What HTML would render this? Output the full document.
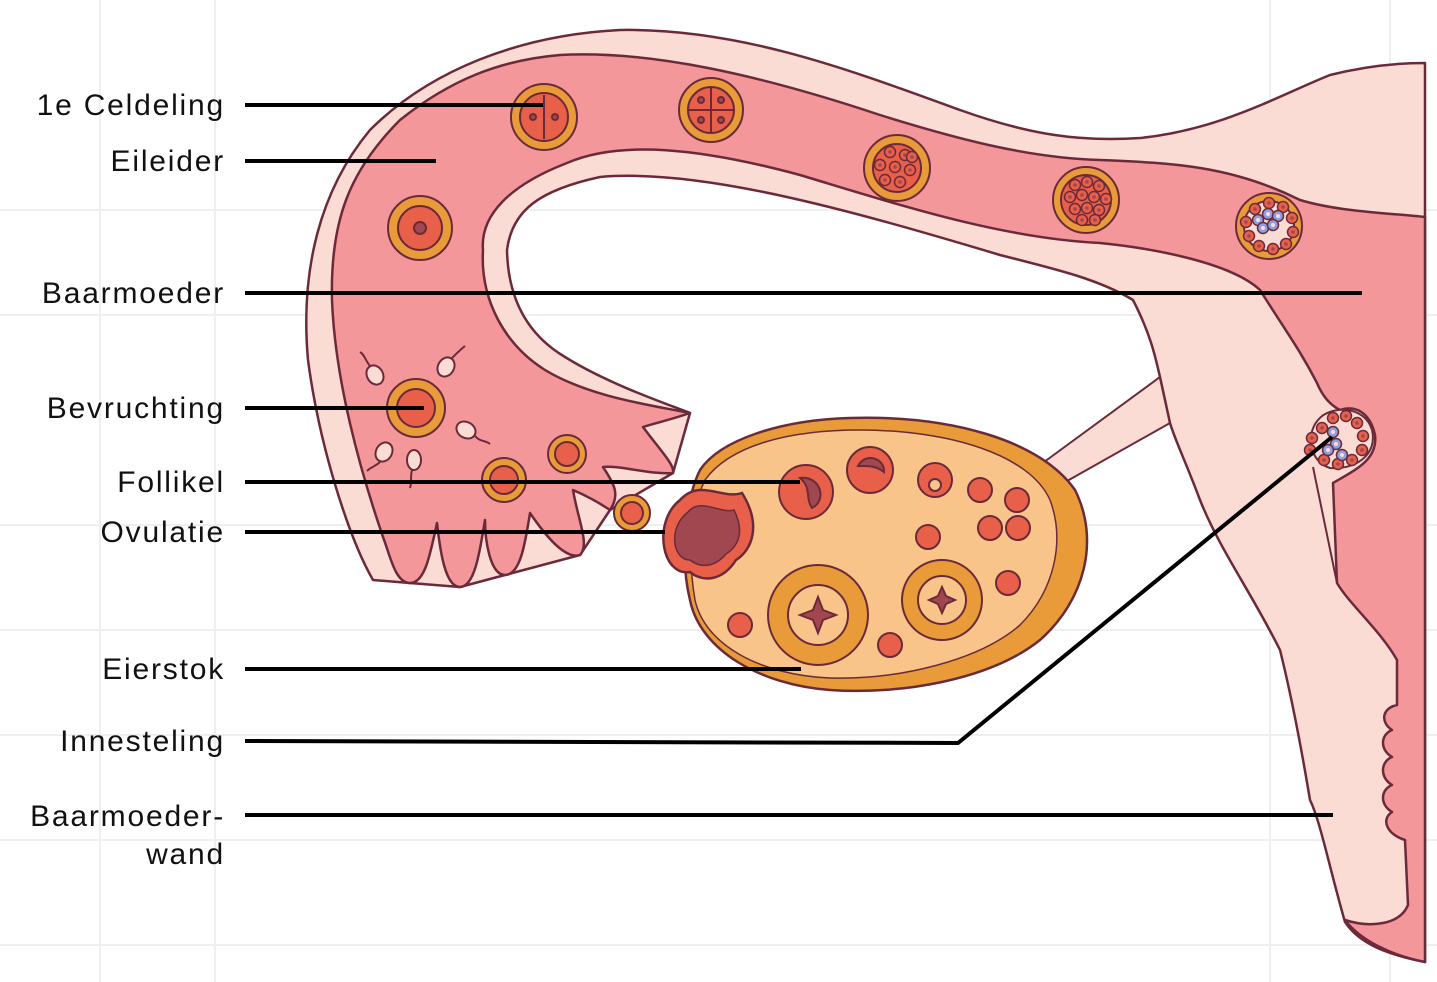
<!DOCTYPE html>
<html><head><meta charset="utf-8"><style>
html,body{margin:0;padding:0;background:#fff}
svg{display:block}
text{font-family:"Liberation Sans",sans-serif;font-size:30px;fill:#111;letter-spacing:1.8px}
</style></head><body>
<svg width="1437" height="982" viewBox="0 0 1437 982" xmlns="http://www.w3.org/2000/svg">
<defs>
<g id="c"><circle r="5.5" fill="#e8604a" stroke="#6b2a3a" stroke-width="1.5"/><circle r="1.8" fill="#a0474f"/></g>
<g id="b"><circle r="5.5" fill="#8fa0e0" stroke="#6b2a3a" stroke-width="1.5"/><circle r="2" fill="#fbdcd5"/></g>
</defs>
<g stroke="#efefef" stroke-width="2">
<line x1="100" y1="0" x2="100" y2="982"/><line x1="215" y1="0" x2="215" y2="982"/><line x1="1270" y1="0" x2="1270" y2="982"/><line x1="1390" y1="0" x2="1390" y2="982"/>
<line x1="0" y1="210" x2="1437" y2="210"/><line x1="0" y1="315" x2="1437" y2="315"/><line x1="0" y1="525" x2="1437" y2="525"/><line x1="0" y1="630" x2="1437" y2="630"/><line x1="0" y1="735" x2="1437" y2="735"/><line x1="0" y1="840" x2="1437" y2="840"/><line x1="0" y1="945" x2="1437" y2="945"/>
</g>
<path d="M1040,465 L1160,377 L1170,423 L1060,485 Z" fill="#fbdcd5" stroke="#6b2a3a" stroke-width="2"/>
<path d="M373,580 C350,540 320,450 308,360 C300,270 320,190 370,130 C430,70 520,35 620,30 C740,28 850,70 960,110 C1030,135 1080,142 1140,138 C1220,130 1280,95 1330,75 C1370,65 1400,63 1425,63 L1425,962 C1390,955 1360,945 1345,922 C1330,870 1320,820 1310,800 C1300,740 1290,690 1280,650 C1250,590 1220,550 1200,500 C1185,460 1175,440 1170,423 L1160,377 C1155,355 1150,333 1133,300 C1100,280 1060,270 1000,255 C850,210 700,168 600,177 C540,190 512,210 507,250 C508,300 528,335 565,357 C610,385 670,405 690,413 L673,473 L610,510 L580,555 L505,575 L460,587 L410,583 Z" fill="#fbdcd5" stroke="#6b2a3a" stroke-width="2.5" stroke-linejoin="round"/>
<path d="M383,537 C360,470 335,380 332,300 C330,220 350,170 400,120 C450,80 500,60 560,55 C650,50 760,75 880,115 C960,140 1030,158 1100,160 C1170,163 1230,165 1300,200 C1340,212 1390,213 1425,217 L1425,962 C1390,955 1360,940 1345,920 C1370,928 1400,925 1408,905 L1405,840 C1388,835 1380,820 1392,812 C1380,805 1380,790 1392,785 C1380,778 1380,762 1392,757 C1380,750 1380,735 1392,730 C1380,722 1382,708 1397,705 L1397,660 C1380,630 1350,605 1337,583 L1333,483 C1355,470 1378,460 1375,435 C1370,412 1355,405 1340,410 C1330,405 1322,395 1317,383 C1300,350 1287,333 1260,290 C1230,262 1150,248 1100,243 C1000,238 900,205 800,175 C700,148 620,140 567,163 C510,185 480,215 483,250 C480,300 505,345 545,370 C590,397 650,405 690,413 C670,420 655,423 643,427 C660,450 675,465 673,473 C650,475 620,465 603,467 C615,485 620,495 610,510 C595,500 580,493 573,490 C578,520 590,545 580,555 C565,560 545,535 530,513 C525,545 520,575 505,575 C490,575 485,540 485,520 C480,550 475,587 460,587 C445,587 440,550 437,523 C430,555 425,583 410,583 C395,583 390,555 383,537 Z" fill="#f4979a" stroke="#6b2a3a" stroke-width="2.5" stroke-linejoin="round"/>
<path d="M1313,467 L1337,583" fill="none" stroke="#6b2a3a" stroke-width="2"/>
<path d="M1318,420 C1330,405 1365,405 1372,430 C1378,455 1355,470 1330,468 C1310,462 1305,435 1318,420 Z" fill="#fbdcd5" stroke="#6b2a3a" stroke-width="2"/>
<path d="M700,470 C720,440 780,420 850,418 C950,415 1040,440 1075,490 C1100,540 1085,600 1040,640 C990,680 900,695 830,690 C760,685 700,650 690,600 C680,560 685,500 700,470 Z" fill="#e89b38" stroke="#6b2a3a" stroke-width="2.5"/>
<path d="M705,480 C730,445 790,430 860,430 C950,430 1030,455 1050,500 C1065,540 1055,590 1020,625 C980,660 900,680 830,678 C760,675 705,645 695,600 C688,560 690,510 705,480 Z" fill="#f9c48a" stroke="#6b2a3a" stroke-width="1.5"/>
<path d="M680,500 C700,478 722,500 742,493 C762,525 752,550 736,560 C722,582 702,582 690,572 C662,577 652,522 680,500Z" fill="#e8604a" stroke="#6b2a3a" stroke-width="2.5"/>
<path d="M688,512 C700,497 720,514 734,510 C744,530 740,545 726,554 C714,568 700,568 690,560 C672,560 668,527 688,512Z" fill="#a0474f" stroke="#6b2a3a" stroke-width="1.5"/>
<g stroke="#6b2a3a" stroke-width="2">
<circle cx="806" cy="492" r="27" fill="#e8604a"/><path d="M800,478 C820,475 828,500 812,508 C805,498 812,488 800,478Z" fill="#a0474f"/>
<circle cx="870" cy="470" r="23" fill="#e8604a"/><path d="M858,466 C865,452 885,458 884,472 C875,465 866,466 858,466Z" fill="#a0474f"/>
<circle cx="935" cy="480" r="17" fill="#e8604a"/><circle cx="935" cy="485" r="6" fill="#f9c48a"/>
<circle cx="980" cy="490" r="12" fill="#e8604a"/><circle cx="1017" cy="500" r="12" fill="#e8604a"/>
<circle cx="990" cy="528" r="12" fill="#e8604a"/><circle cx="1018" cy="528" r="12" fill="#e8604a"/>
<circle cx="928" cy="537" r="12" fill="#e8604a"/><circle cx="1008" cy="583" r="12" fill="#e8604a"/>
<circle cx="740" cy="625" r="12" fill="#e8604a"/><circle cx="890" cy="645" r="12" fill="#e8604a"/>
<circle cx="818" cy="615" r="50" fill="#e89b38"/><circle cx="818" cy="615" r="30" fill="#f9c48a"/><path d="M818,597 L823,610 L836,615 L823,620 L818,633 L813,620 L800,615 L813,610Z" fill="#a0474f"/>
<circle cx="942" cy="600" r="40" fill="#e89b38"/><circle cx="942" cy="600" r="24" fill="#f9c48a"/><path d="M942,587 L946,596 L955,600 L946,604 L942,613 L938,604 L929,600 L938,596Z" fill="#a0474f"/>
</g>
<g stroke="#6b2a3a" stroke-width="2">
<circle cx="544" cy="117" r="33" fill="#e89b38"/><circle cx="544" cy="117" r="24" fill="#e8604a"/>
<line x1="544" y1="95" x2="544" y2="139"/><circle cx="533" cy="117" r="3" fill="#a0474f"/><circle cx="555" cy="117" r="3" fill="#a0474f"/>
<circle cx="711" cy="110" r="32" fill="#e89b38"/><circle cx="711" cy="110" r="23" fill="#e8604a"/>
<line x1="711" y1="88" x2="711" y2="132"/><line x1="689" y1="110" x2="733" y2="110"/>
<circle cx="701" cy="100" r="3" fill="#a0474f"/><circle cx="721" cy="100" r="3" fill="#a0474f"/><circle cx="701" cy="120" r="3" fill="#a0474f"/><circle cx="721" cy="120" r="3" fill="#a0474f"/>
<circle cx="897" cy="168" r="33" fill="#e89b38"/><circle cx="897" cy="168" r="24" fill="#e8604a"/>
<circle cx="1086" cy="200" r="33" fill="#e89b38"/><circle cx="1086" cy="200" r="25" fill="#e8604a"/>
<circle cx="1269" cy="226" r="33" fill="#e89b38"/><circle cx="1269" cy="226" r="25" fill="#fbdcd5"/>
<circle cx="420" cy="228" r="32" fill="#e89b38"/><circle cx="420" cy="228" r="22" fill="#e8604a"/><circle cx="420" cy="228" r="6" fill="#a0474f"/>
<circle cx="416" cy="408" r="29" fill="#e89b38"/><circle cx="416" cy="408" r="19" fill="#e8604a"/>
<circle cx="504" cy="480" r="22" fill="#e89b38"/><circle cx="504" cy="480" r="14" fill="#e8604a"/>
<circle cx="567" cy="454" r="19" fill="#e89b38"/><circle cx="567" cy="454" r="12" fill="#e8604a"/>
<circle cx="632" cy="513" r="18" fill="#e89b38"/><circle cx="632" cy="513" r="11" fill="#e8604a"/>
</g>
<use href="#c" x="890" y="152"/><use href="#c" x="905" y="155"/><use href="#c" x="880" y="165"/><use href="#c" x="895" y="167"/><use href="#c" x="910" y="170"/><use href="#c" x="885" y="180"/><use href="#c" x="900" y="182"/><use href="#c" x="912" y="157"/>
<use href="#c" x="1075" y="185"/><use href="#c" x="1087" y="182"/><use href="#c" x="1099" y="186"/><use href="#c" x="1070" y="197"/><use href="#c" x="1082" y="195"/><use href="#c" x="1094" y="197"/><use href="#c" x="1106" y="199"/><use href="#c" x="1075" y="209"/><use href="#c" x="1087" y="208"/><use href="#c" x="1099" y="210"/><use href="#c" x="1082" y="220"/><use href="#c" x="1095" y="220"/>
<use href="#c" x="1269" y="203"/><use href="#c" x="1283" y="207"/><use href="#c" x="1292" y="218"/><use href="#c" x="1293" y="232"/><use href="#c" x="1286" y="244"/><use href="#c" x="1273" y="249"/><use href="#c" x="1259" y="246"/><use href="#c" x="1249" y="236"/><use href="#c" x="1246" y="222"/><use href="#c" x="1255" y="209"/>
<use href="#b" x="1258" y="220"/><use href="#b" x="1268" y="214"/><use href="#b" x="1278" y="216"/><use href="#b" x="1263" y="228"/><use href="#b" x="1273" y="225"/>
<use href="#c" x="1322" y="428"/><use href="#c" x="1333" y="418"/><use href="#c" x="1346" y="416"/><use href="#c" x="1357" y="423"/><use href="#c" x="1363" y="436"/><use href="#c" x="1362" y="450"/><use href="#c" x="1352" y="460"/><use href="#c" x="1338" y="464"/><use href="#c" x="1324" y="460"/><use href="#c" x="1312" y="438"/><use href="#c" x="1310" y="450"/>
<use href="#b" x="1333" y="432"/><use href="#b" x="1336" y="444"/><use href="#b" x="1342" y="455"/><use href="#b" x="1328" y="450"/>
<g fill="#fbdcd5" stroke="#6b2a3a" stroke-width="2">
<ellipse cx="375" cy="375" rx="8" ry="10" transform="rotate(-30 375 375)"/><path d="M370,366 C365,360 365,355 360,352" fill="none"/>
<ellipse cx="446" cy="367" rx="8" ry="10" transform="rotate(30 446 367)"/><path d="M452,358 C458,352 460,350 465,346" fill="none"/>
<ellipse cx="466" cy="430" rx="10" ry="8" transform="rotate(30 466 430)"/><path d="M475,436 C480,442 485,440 490,444" fill="none"/>
<ellipse cx="384" cy="452" rx="8" ry="10" transform="rotate(30 384 452)"/><path d="M380,462 C375,467 372,466 367,471" fill="none"/>
<ellipse cx="414" cy="460" rx="7" ry="10"/><path d="M412,470 C410,478 412,482 410,488" fill="none"/>
</g>
<g stroke="#000" stroke-width="4" fill="none">
<line x1="245" y1="105" x2="543" y2="105"/><line x1="245" y1="161" x2="436" y2="161"/>
<line x1="245" y1="293" x2="1362" y2="293"/><line x1="245" y1="408" x2="424" y2="408"/>
<line x1="245" y1="482" x2="800" y2="482"/><line x1="245" y1="532" x2="665" y2="532"/>
<line x1="245" y1="669" x2="801" y2="669"/>
<polyline points="245,741 958,743 1332,437"/>
<line x1="245" y1="815" x2="1333" y2="815"/>
</g>
<g text-anchor="end">
<text x="225" y="115">1e Celdeling</text><text x="225" y="171">Eileider</text>
<text x="225" y="303">Baarmoeder</text><text x="225" y="418">Bevruchting</text>
<text x="225" y="492">Follikel</text><text x="225" y="542">Ovulatie</text>
<text x="225" y="679">Eierstok</text><text x="225" y="751">Innesteling</text>
<text x="225" y="826">Baarmoeder-</text><text x="225" y="864">wand</text>
</g>
</svg>
</body></html>
